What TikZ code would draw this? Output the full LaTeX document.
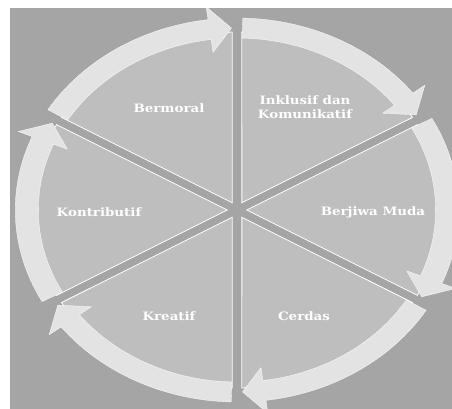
\documentclass[tikz,border=0pt]{standalone}
\usepackage{fontspec}
\newfontfamily\labelfont{DejaVu Serif}
\begin{document}
\begin{tikzpicture}[x=1pt,y=1pt]
\definecolor{bgray}{HTML}{A5A5A5}
\definecolor{sgray}{HTML}{BEBEBE}
\definecolor{rgray}{HTML}{E3E3E3}
\tikzset{
  segment/.style={fill=sgray, draw=white, line width=0.8pt},
  ringarrow/.style={fill=rgray, draw=white, line width=0.3pt},
  seglabel/.style={text=white, font=\labelfont\bfseries\fontsize{11.6}{14}\selectfont,
    align=center, xscale=1.155, inner sep=0pt},
}
\useasboundingbox (0,0) rectangle (452,409);
\fill[bgray] (10,0) rectangle (452,401);
\begin{scope}
  \clip (10,0) rectangle (452,401);
  \begin{scope}[shift={(237,199)}, xscale=1.155]
    % six pie segments separated by narrow gaps
    \foreach \a in {-150,-90,-30,30,90,150}{
      \draw[segment] ({\a+30}:8.4) -- ({\a+1.35}:178)
        arc[start angle={\a+1.35}, end angle={\a+58.65}, radius=178] -- cycle;
    }
    % clockwise curved arrows along the rim of each segment
    \foreach \s in {-150,-90,-30,30,90,150}{
      \draw[ringarrow] ({\s+58.5}:192)
        arc[start angle={\s+58.5}, end angle={\s+7.5}, radius=192]
        -- ({\s+7.5}:205) -- ({\s+1.5}:182) -- ({\s+7.5}:159)
        -- ({\s+7.5}:172)
        arc[start angle={\s+7.5}, end angle={\s+58.5}, radius=172] -- cycle;
    }
  \end{scope}
\end{scope}
\node[seglabel] (bermoral) at (169,301) {Bermoral};
\node[seglabel] (inklusif) at (305,302) {Inklusif dan\\Komunikatif};
\node[seglabel] (berjiwa) at (373,197) {Berjiwa Muda};
\node[seglabel] (cerdas) at (304,93) {Cerdas};
\node[seglabel] (kreatif) at (169,93) {Kreatif};
\node[seglabel] (kontributif) at (99,197) {Kontributif};
\end{tikzpicture}
\end{document}
